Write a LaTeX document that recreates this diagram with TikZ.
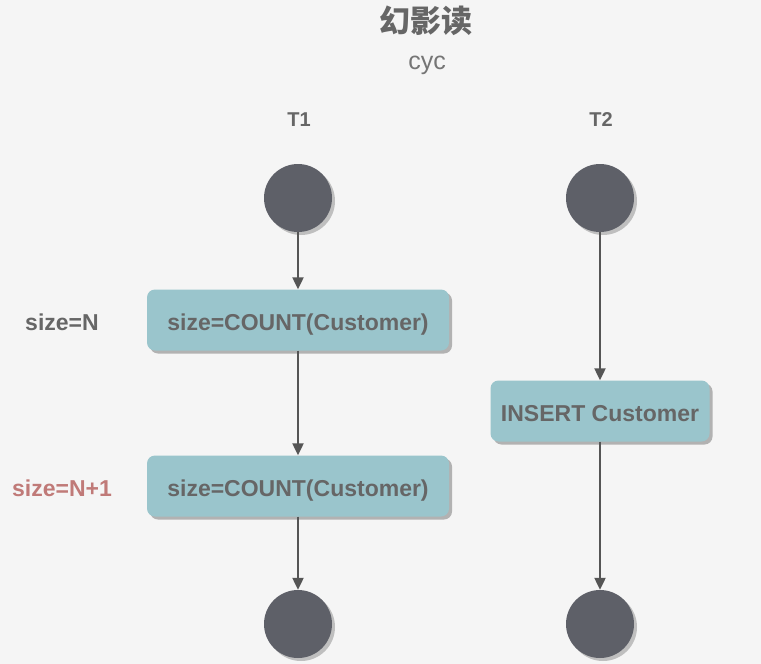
\documentclass[tikz,border=0pt]{standalone}
\usepackage{fontspec}
\setmainfont{Liberation Sans}
\newfontfamily\cjk{Noto Sans CJK SC}
\usepackage{tikz}
\usetikzlibrary{%
  positioning
 ,arrows.meta
 ,shadows
}
\definecolor{bgc}{HTML}{F5F5F5}
\definecolor{txt}{HTML}{666666}
\definecolor{boxc}{HTML}{9AC5CC}
\definecolor{dotc}{HTML}{5E6068}
\definecolor{linec}{HTML}{555555}
\definecolor{redc}{HTML}{C07A78}
\tikzstyle{act}=[rectangle,rounded corners=8pt,fill=boxc,minimum height=61pt,inner sep=0pt,
  text height=20pt,text depth=0pt,
  text=txt,font=\fontsize{23}{27}\selectfont\bfseries,
  drop shadow={shadow xshift=3pt,shadow yshift=-3pt,fill=black!30,opacity=1}]
\tikzstyle{dot}=[circle,fill=dotc,minimum size=68pt,inner sep=0pt,
  drop shadow={shadow xshift=3pt,shadow yshift=-3pt,fill=black!25,opacity=1}]
\tikzstyle{flow}=[-{Triangle[length=12pt,width=11pt]},line width=2.2pt,draw=linec]
\tikzstyle{lbl}=[text=txt,font=\fontsize{23}{27}\selectfont\bfseries]

\begin{document}
\begin{tikzpicture}[x=1pt,y=-1pt]
  \fill[bgc] (0,0) rectangle (761,664);
  \useasboundingbox (0,0) rectangle (761,664);
  \node[text=txt,font=\fontsize{31}{34}\selectfont\cjk\bfseries] (title) at (426,21) {幻影读};
  \node[text=txt!90,font=\fontsize{25}{28}\selectfont] (author) at (427,65) {cyc};
  \node[text=txt,font=\fontsize{20}{24}\selectfont\bfseries] (t1) at (299,120) {T1};
  \node[text=txt,font=\fontsize{20}{24}\selectfont\bfseries] (t2) at (601,120) {T2};
% T1
  \node[dot]                   (t1start) at (298,198) {};
  \node[act,minimum width=302pt] (t1read1) at (298,320) {size=COUNT(Customer)};
  \node[act,minimum width=302pt] (t1read2) at (298,486) {size=COUNT(Customer)};
  \node[dot]                   (t1end)   at (298,624) {};
% T2
  \node[dot]                   (t2start)  at (600,198) {};
  \node[act,minimum width=219pt] (t2insert) at (600,411) {INSERT Customer};
  \node[dot]                   (t2end)    at (600,624) {};
% results
  \node[lbl]             (sizeN)   at (62,322) {size=N};
  \node[lbl,text=redc]   (sizeN1)  at (62,488) {size=N+1};
%
  \draw[flow] (t1start) -- (t1read1);
  \draw[flow] (t1read1) -- (t1read2);
  \draw[flow] (t1read2) -- (t1end);
  \draw[flow] (t2start) -- (t2insert);
  \draw[flow] (t2insert) -- (t2end);
\end{tikzpicture}
\end{document}
